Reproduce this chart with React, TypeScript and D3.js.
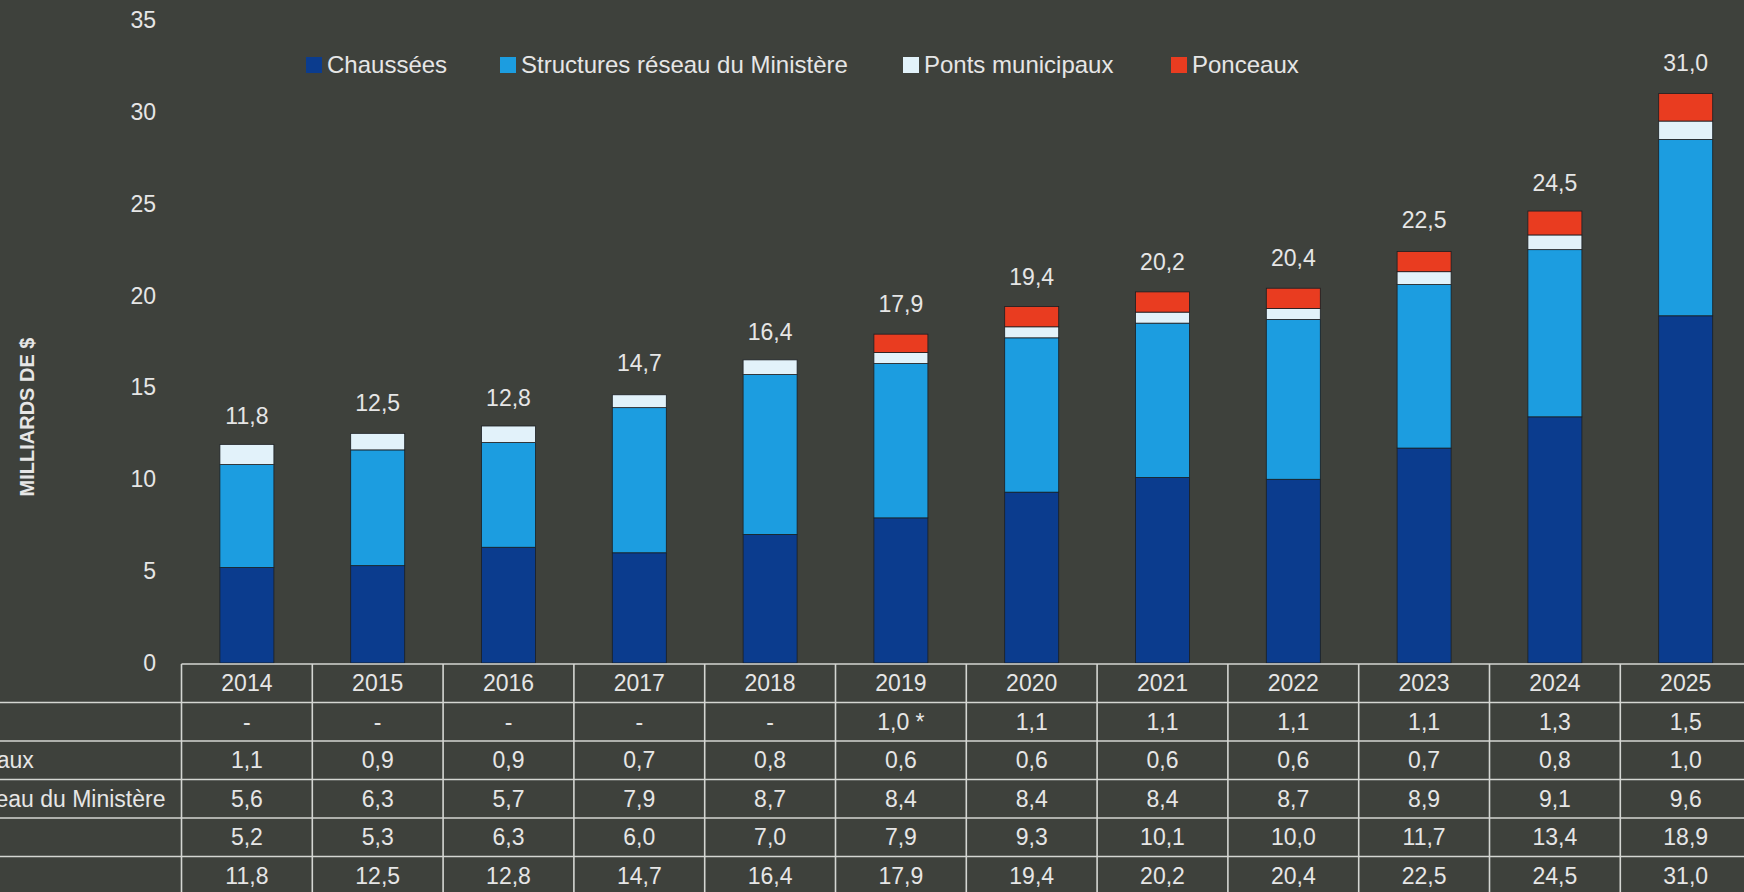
import React, { useRef, useEffect } from 'react';
import * as d3 from 'd3';

const years = ['2014', '2015', '2016', '2017', '2018', '2019', '2020', '2021', '2022', '2023', '2024', '2025'];
const chaussees = [5.2, 5.3, 6.3, 6.0, 7.0, 7.9, 9.3, 10.1, 10.0, 11.7, 13.4, 18.9];
const structures = [5.6, 6.3, 5.7, 7.9, 8.7, 8.4, 8.4, 8.4, 8.7, 8.9, 9.1, 9.6];
const ponts = [1.1, 0.9, 0.9, 0.7, 0.8, 0.6, 0.6, 0.6, 0.6, 0.7, 0.8, 1.0];
const ponceaux = [null, null, null, null, null, 1.0, 1.1, 1.1, 1.1, 1.1, 1.3, 1.5];
const totals = [11.8, 12.5, 12.8, 14.7, 16.4, 17.9, 19.4, 20.2, 20.4, 22.5, 24.5, 31.0];
const yTicks = [0, 5, 10, 15, 20, 25, 30, 35];

const seriesNames = ['Chaussées', 'Structures réseau du Ministère', 'Ponts municipaux', 'Ponceaux'];
const colors = ['#0b3c8e', '#1c9de0', '#e2f2fa', '#e93c20'];

const fmt = (v: number) => v.toFixed(1).replace('.', ',');

export default function App() {
  const ref = useRef<HTMLDivElement>(null);

  useEffect(() => {
    const width = 1744;
    const height = 892;
    const font = '"Liberation Sans", Arial, sans-serif';
    const textColor = '#e6e6e6';
    const lineColor = '#d4d6d2';

    const svg = d3
      .select(ref.current)
      .call((g) => g.select('svg').remove())
      .append('svg')
      .attr('width', width)
      .attr('height', height)
      .style('display', 'block')
      .style('font-family', font);

    svg.append('rect').attr('width', width).attr('height', height).attr('fill', '#3e413c');

    const tableLeft = 181.5;
    const colW = 130.8;
    const x = d3.scaleBand().domain(years).range([tableLeft, tableLeft + colW * years.length]);
    const y = d3.scaleLinear().domain([0, 35]).range([663, 20]);
    const barW = 54;

    // stacked bars
    const rows = years.map((year, i) => ({
      year,
      c: chaussees[i],
      s: structures[i],
      p: ponts[i],
      r: ponceaux[i] ?? 0,
    }));
    const stack = d3.stack<any>().keys(['c', 's', 'p', 'r'])(rows);

    stack.forEach((layer, k) => {
      svg
        .append('g')
        .selectAll('rect')
        .data(layer)
        .join('rect')
        .attr('x', (d) => x(d.data.year)! + x.bandwidth() / 2 - barW / 2)
        .attr('width', barW)
        .attr('y', (d) => y(d[1]))
        .attr('height', (d) => Math.max(0, y(d[0]) - y(d[1])))
        .attr('fill', colors[k])
        .attr('stroke', '#1b1e22')
        .attr('stroke-width', 0.8);
    });

    // total labels above bars
    svg
      .append('g')
      .selectAll('text')
      .data(years)
      .join('text')
      .attr('x', (d) => x(d)! + x.bandwidth() / 2)
      .attr('y', (d, i) => y(totals[i]) - 22)
      .attr('text-anchor', 'middle')
      .attr('font-size', 23)
      .attr('fill', textColor)
      .text((d, i) => fmt(totals[i]));

    // y axis labels
    svg
      .append('g')
      .selectAll('text')
      .data(yTicks)
      .join('text')
      .attr('x', 156)
      .attr('y', (d) => y(d))
      .attr('dy', '0.35em')
      .attr('text-anchor', 'end')
      .attr('font-size', 23)
      .attr('fill', textColor)
      .text((d) => d);

    svg
      .append('text')
      .attr('transform', `translate(34, 417) rotate(-90)`)
      .attr('text-anchor', 'middle')
      .attr('font-size', 20)
      .attr('font-weight', 'bold')
      .attr('fill', textColor)
      .text('MILLIARDS DE $');

    // legend
    const legendX = [306, 500, 903, 1171];
    const legend = svg
      .append('g')
      .selectAll('g')
      .data(seriesNames)
      .join('g')
      .attr('transform', (d, i) => `translate(${legendX[i]}, 65)`);
    legend
      .append('rect')
      .attr('x', 0)
      .attr('y', -8)
      .attr('width', 16)
      .attr('height', 16)
      .attr('fill', (d, i) => colors[i]);
    legend
      .append('text')
      .attr('x', 21)
      .attr('dy', '0.35em')
      .attr('font-size', 24)
      .attr('fill', textColor)
      .text((d) => d);

    // data table
    const rowH = 38.5;
    const tableTop = 664;
    const tableRows = [
      { label: 'Ponceaux', values: ponceaux },
      { label: 'Ponts municipaux', values: ponts },
      { label: 'Structures réseau du Ministère', values: structures },
      { label: 'Chaussées', values: chaussees },
      { label: 'Total', values: totals },
    ];

    const table = svg.append('g');

    // horizontal lines
    table
      .append('line')
      .attr('x1', tableLeft)
      .attr('x2', width)
      .attr('y1', tableTop)
      .attr('y2', tableTop)
      .attr('stroke', lineColor)
      .attr('stroke-width', 1.6);
    tableRows.forEach((r, i) => {
      const ly = tableTop + rowH * (i + 1);
      table
        .append('line')
        .attr('x1', 0)
        .attr('x2', width)
        .attr('y1', ly)
        .attr('y2', ly)
        .attr('stroke', lineColor)
        .attr('stroke-width', 1.6);
    });

    // vertical lines
    d3.range(years.length + 1).forEach((k) => {
      const lx = tableLeft + colW * k;
      table
        .append('line')
        .attr('x1', lx)
        .attr('x2', lx)
        .attr('y1', tableTop)
        .attr('y2', height)
        .attr('stroke', lineColor)
        .attr('stroke-width', 1.6);
    });

    // year header
    table
      .append('g')
      .selectAll('text')
      .data(years)
      .join('text')
      .attr('x', (d) => x(d)! + x.bandwidth() / 2)
      .attr('y', tableTop + rowH / 2)
      .attr('dy', '0.35em')
      .attr('text-anchor', 'middle')
      .attr('font-size', 23)
      .attr('fill', textColor)
      .text((d) => d);

    tableRows.forEach((r, i) => {
      const cy = tableTop + rowH * (i + 1) + rowH / 2;
      const label = table
        .append('text')
        .attr('y', cy)
        .attr('dy', '0.35em')
        .attr('font-size', 23)
        .attr('fill', textColor)
        .text(r.label);
      label.attr('data-row', i);

      table
        .append('g')
        .selectAll('text')
        .data(r.values)
        .join('text')
        .attr('x', (d, j) => x(years[j])! + x.bandwidth() / 2)
        .attr('y', cy)
        .attr('dy', '0.35em')
        .attr('text-anchor', 'middle')
        .attr('font-size', 23)
        .attr('fill', textColor)
        .text((d, j) => {
          if (d == null) return '-';
          const s = fmt(d as number);
          return i === 0 && j === 5 ? `${s} *` : s;
        });
    });

    // row labels share one left edge; the page crops them at its left side
    const longest = table.selectAll<SVGTextElement, unknown>('text[data-row="2"]').node();
    const len = longest ? longest.getComputedTextLength() : 313;
    const labelX = tableLeft - 16 - len;
    table.selectAll('text[data-row]').attr('x', labelX);
  }, []);

  return <div ref={ref} style={{ position: 'fixed', left: 0, top: 0 }}></div>;
}
